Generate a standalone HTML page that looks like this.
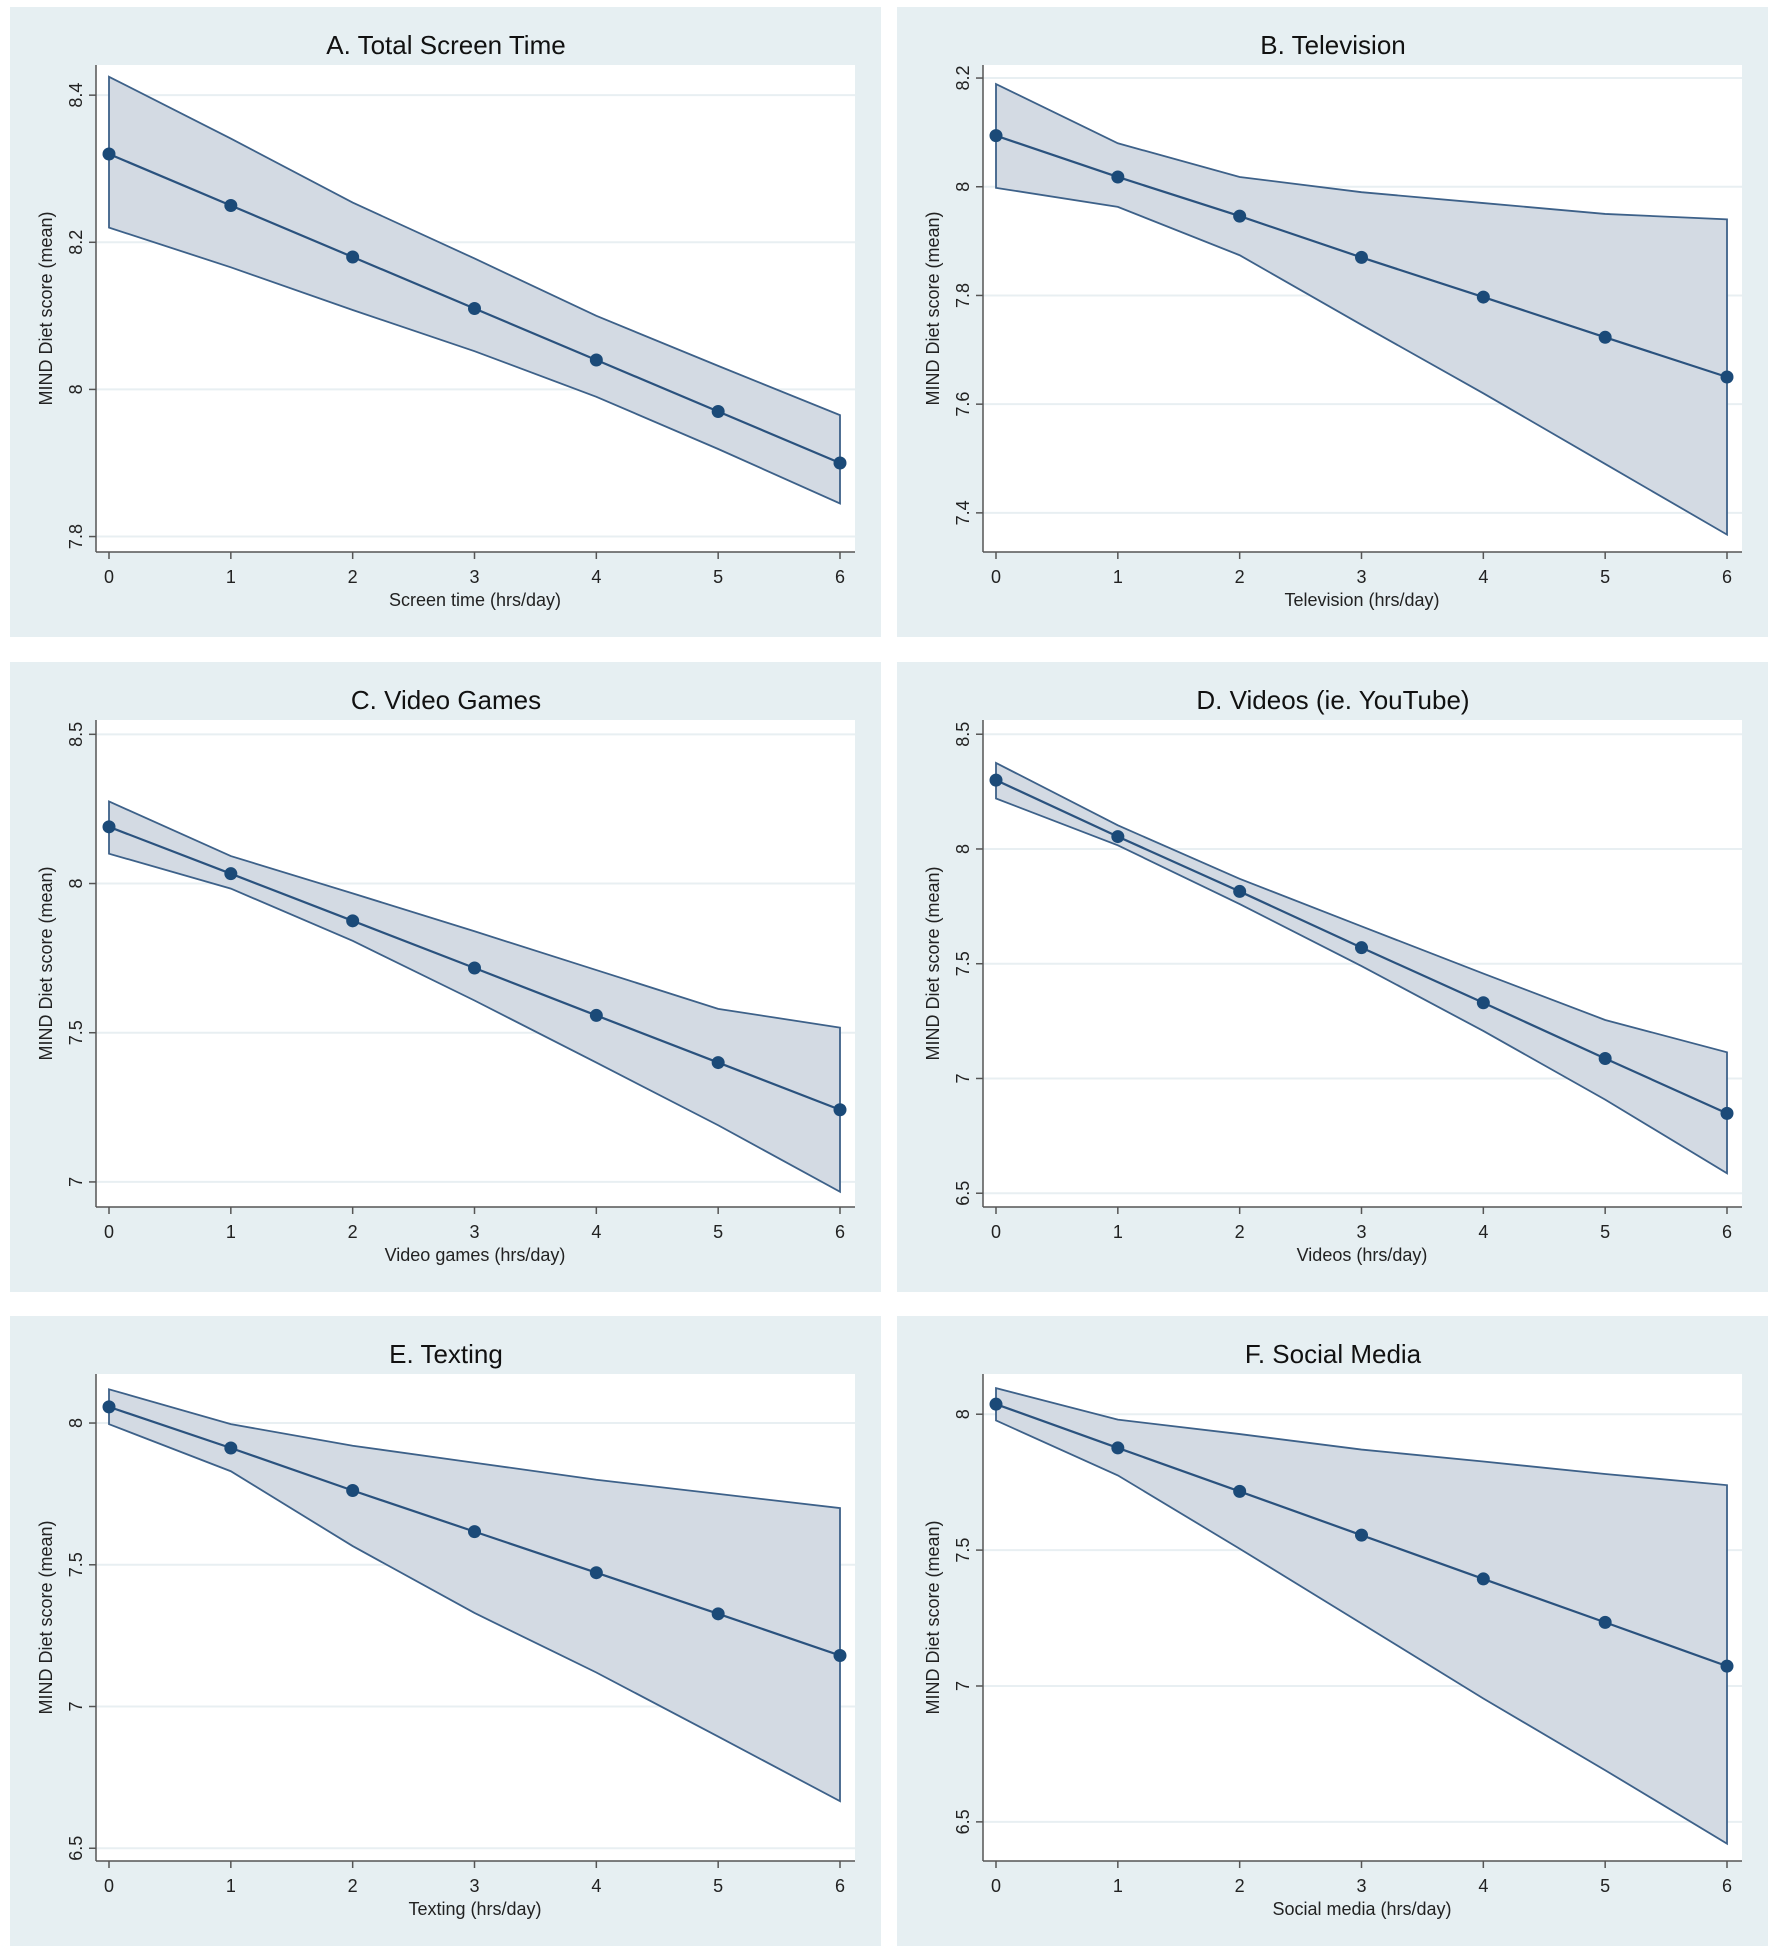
<!DOCTYPE html>
<html><head><meta charset="utf-8"><style>
body{margin:0;background:#fff}
svg{display:block;font-family:"Liberation Sans",sans-serif}
</style></head><body>
<svg id="fig" width="1776" height="1951" viewBox="0 0 1776 1951" xmlns="http://www.w3.org/2000/svg"></svg>
<script>
const xCats = [0,1,2,3,4,5,6];
const titles = ["A. Total Screen Time","B. Television","C. Video Games","D. Videos (ie. YouTube)","E. Texting","F. Social Media"];
const xTitles = ["Screen time (hrs/day)","Television (hrs/day)","Video games (hrs/day)","Videos (hrs/day)","Texting (hrs/day)","Social media (hrs/day)"];
const meanA = [8.32,8.25,8.18,8.11,8.04,7.97,7.90];
const upperA = [8.425,8.341,8.254,8.178,8.10,8.032,7.965];
const lowerA = [8.22,8.166,8.108,8.052,7.99,7.919,7.845];
const meanB = [8.094,8.018,7.946,7.870,7.797,7.723,7.65];
const upperB = [8.189,8.08,8.018,7.99,7.97,7.95,7.94];
const lowerB = [7.998,7.963,7.874,7.746,7.62,7.49,7.36];
const meanC = [8.19,8.033,7.875,7.717,7.558,7.40,7.242];
const upperC = [8.275,8.092,7.967,7.84,7.71,7.58,7.517];
const lowerC = [8.10,7.983,7.808,7.608,7.40,7.19,6.967];
const meanD = [8.30,8.054,7.815,7.57,7.33,7.087,6.848];
const upperD = [8.375,8.103,7.87,7.663,7.457,7.255,7.114];
const lowerD = [8.22,8.016,7.76,7.49,7.207,6.908,6.587];
const meanE = [8.057,7.912,7.762,7.617,7.472,7.327,7.18];
const upperE = [8.119,7.996,7.92,7.86,7.80,7.75,7.70];
const lowerE = [7.996,7.83,7.566,7.33,7.12,6.894,6.666];
const meanF = [8.037,7.876,7.716,7.555,7.394,7.234,7.073];
const upperF = [8.096,7.98,7.927,7.87,7.826,7.78,7.739];
const lowerF = [7.977,7.775,7.505,7.23,6.954,6.69,6.42];
const ticksA = [7.8,8,8.2,8.4];
const ticksB = [7.4,7.6,7.8,8,8.2];
const ticksC = [7,7.5,8,8.5];
const ticksD = [6.5,7,7.5,8,8.5];
const ticksE = [6.5,7,7.5,8];
const ticksF = [6.5,7,7.5,8];
const tickLabelsA = ["7.8","8","8.2","8.4"];
const tickLabelsB = ["7.4","7.6","7.8","8","8.2"];
const tickLabelsC = ["7","7.5","8","8.5"];
const tickLabelsD = ["6.5","7","7.5","8","8.5"];
const tickLabelsE = ["6.5","7","7.5","8"];
const tickLabelsF = ["6.5","7","7.5","8"];
const yDomains = [[7.779,8.441],[7.328,8.224],[6.916,8.548],[6.44,8.562],[6.455,8.173],[6.356,8.148]];

const panels=[
 {m:meanA,u:upperA,l:lowerA,t:ticksA,tl:tickLabelsA},
 {m:meanB,u:upperB,l:lowerB,t:ticksB,tl:tickLabelsB},
 {m:meanC,u:upperC,l:lowerC,t:ticksC,tl:tickLabelsC},
 {m:meanD,u:upperD,l:lowerD,t:ticksD,tl:tickLabelsD},
 {m:meanE,u:upperE,l:lowerE,t:ticksE,tl:tickLabelsE},
 {m:meanF,u:upperF,l:lowerF,t:ticksF,tl:tickLabelsF}];
const NS="http://www.w3.org/2000/svg";
const svg=document.getElementById('fig');
function mk(tag,attrs,parent,text){const e=document.createElementNS(NS,tag);for(const k in attrs)e.setAttribute(k,attrs[k]);if(text!==undefined)e.textContent=text;parent.appendChild(e);return e;}
const colX=[10,897], rowY=[7,662,1316];
panels.forEach((p,i)=>{
  const ox=colX[i%2], oy=rowY[Math.floor(i/2)];
  const g=mk('g',{transform:`translate(${ox},${oy})`},svg);
  
  
  const bg=mk('rect',{x:0,y:0,width:871,height:630,fill:'#e6eff2'},g);
  
  
  const L=86,R=845,T=58,B=545;
  mk('rect',{x:L,y:T,width:R-L,height:B-T,fill:'#fff'},g);
  const [y0,y1]=yDomains[i];
  const ys=v=>B-(v-y0)/(y1-y0)*(B-T);
  const xs=v=>99+(v-0)/6*(830-99);
  p.t.forEach((tv,k)=>{
    const y=ys(tv);
    mk('line',{x1:L,x2:R,y1:y,y2:y,stroke:'#e8eff2','stroke-width':2},g);
    mk('line',{x1:L-7,x2:L,y1:y,y2:y,stroke:'#555','stroke-width':1.5},g);
    const t=mk('text',{x:0,y:0,transform:`translate(${L-14},${y}) rotate(-90)`,'text-anchor':'middle','font-size':18,fill:'#222'},g,p.tl[k]);
    
    
  });
  mk('line',{x1:L,x2:L,y1:T,y2:B,stroke:'#555','stroke-width':1.5},g);
  mk('line',{x1:L,x2:R,y1:B,y2:B,stroke:'#555','stroke-width':1.5},g);
  xCats.forEach(c=>{
    const x=xs(c);
    mk('line',{x1:x,x2:x,y1:B,y2:B+7,stroke:'#555','stroke-width':1.5},g);
    const t=mk('text',{x:x,y:576,'text-anchor':'middle','font-size':18,fill:'#222'},g,String(c));
    
    
  });
  let pts=xCats.map((c,k)=>xs(c)+','+ys(p.u[k]));
  pts=pts.concat(xCats.slice().reverse().map((c,j)=>{const k=xCats.length-1-j;return xs(c)+','+ys(p.l[k]);}));
  const band=mk('polygon',{points:pts.join(' '),fill:'#d3dae3',stroke:'#3d6189','stroke-width':1.8},g);
  
  
  const line=mk('polyline',{points:xCats.map((c,k)=>xs(c)+','+ys(p.m[k])).join(' '),fill:'none',stroke:'#2a527e','stroke-width':2.2},g);
  
  
  xCats.forEach((c,k)=>{
    const d=mk('circle',{cx:xs(c),cy:ys(p.m[k]),r:6.5,fill:'#1b4a78'},g);
    
    
  });
  const tt=mk('text',{x:436,y:47,'text-anchor':'middle','font-size':26,fill:'#111'},g,titles[i]);
  
  
  const xt=mk('text',{x:465,y:599,'text-anchor':'middle','font-size':18,fill:'#222'},g,xTitles[i]);
  
  
  const yt=mk('text',{x:0,y:0,transform:`translate(42,${(T+B)/2}) rotate(-90)`,'text-anchor':'middle','font-size':18,fill:'#222'},g,'MIND Diet score (mean)');
  
  
});
</script>
</body></html>
